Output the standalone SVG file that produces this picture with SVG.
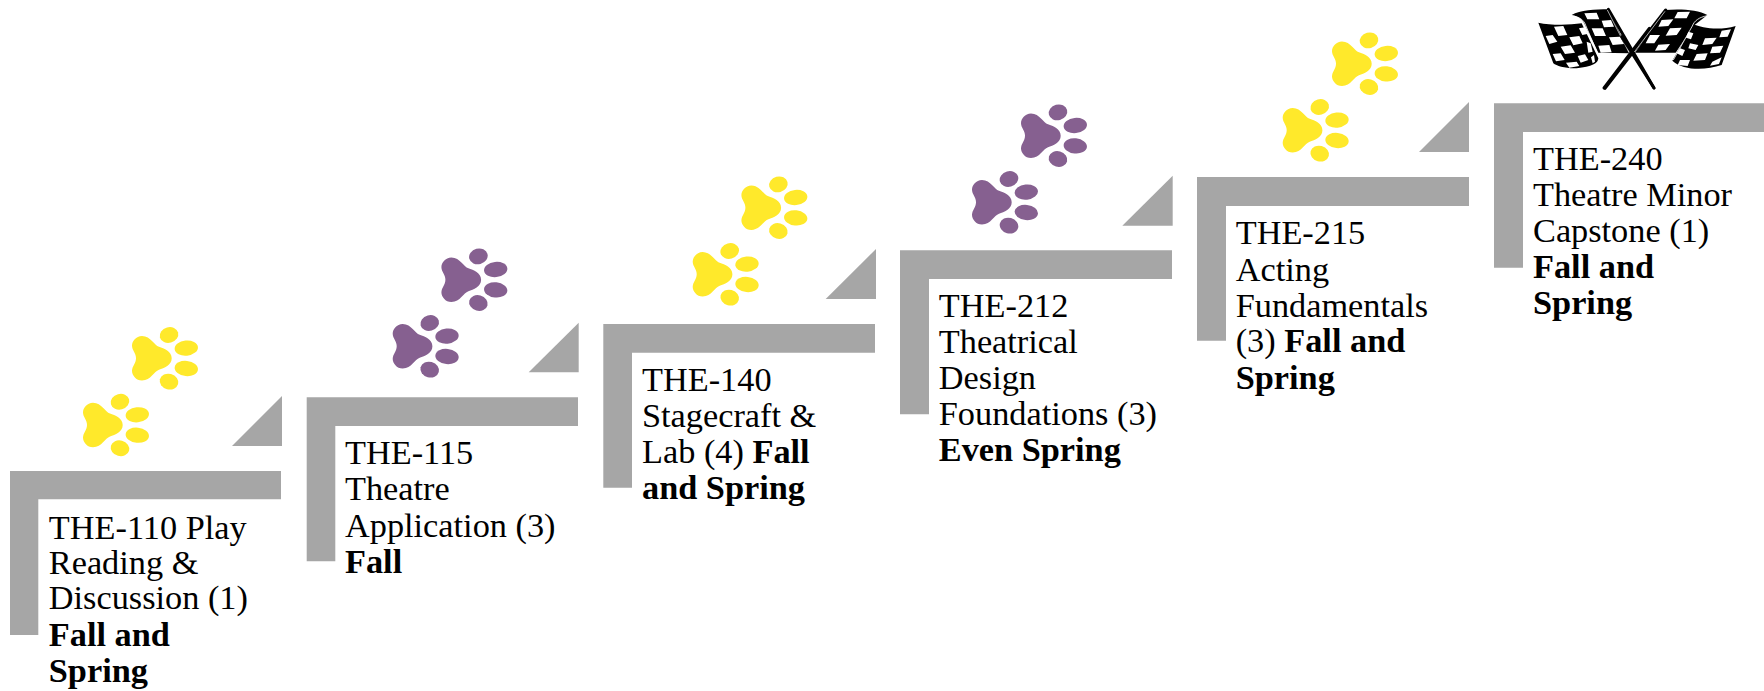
<svg xmlns="http://www.w3.org/2000/svg" width="1764" height="691" viewBox="0 0 1764 691">
<style>
.bar{fill:#a6a6a6}
.t{font-family:"Liberation Serif","Times New Roman",serif;font-size:34.3px;fill:#000;transform:translateY(.7px)}
.b{font-weight:700}
.y{fill:#ffe92b}
.p{fill:#866090}
.w{fill:#fff}
</style>
<defs>
<g id="paw">
<path d="M21.7 0C21.7 7 14 10 9 11.5C4 13 1 22-8 22.3C-14 22.3-18 17-18 12.5C-18 8-14 5-14 0C-14-5-18-8-18-12.5C-18-17-14-22.3-8-22.3C1-22 4-13 9-11.5C14-10 21.7-7 21.7 0Z"/>
<ellipse cx="19" cy="-23.3" rx="9.4" ry="7.8" transform="rotate(-15 19 -23.3)"/>
<ellipse cx="36.3" cy="-10.2" rx="11.7" ry="7.6" transform="rotate(-6 36.3 -10.2)"/>
<ellipse cx="36.3" cy="10.2" rx="11.7" ry="7.6" transform="rotate(6 36.3 10.2)"/>
<ellipse cx="19" cy="23.3" rx="9.4" ry="7.8" transform="rotate(15 19 23.3)"/>
</g>
</defs>
<rect width="1764" height="691" fill="#fff"/>

<g id="step-1">
<path class="bar" d="M10 471H281V499.3H38.3V635H10Z"/>
<path class="bar" d="M232 446H282V396Z"/>
<use href="#paw" class="y" x="150" y="358.3"/>
<use href="#paw" class="y" x="101" y="425"/>
<text class="t"><tspan x="48.8" y="538">THE-110 Play</tspan><tspan x="48.8" y="573.5">Reading &amp;</tspan><tspan x="48.8" y="608.5">Discussion (1)</tspan><tspan class="b" x="48.8" y="645">Fall and</tspan><tspan class="b" x="48.8" y="681">Spring</tspan></text>
</g>

<g id="step-2">
<path class="bar" d="M306.7 397.3H578V426H335.3V561.3H306.7Z"/>
<path class="bar" d="M528.7 372.3H578.7V322.7Z"/>
<use href="#paw" class="p" x="459.4" y="279.7"/>
<use href="#paw" class="p" x="410.7" y="346.3"/>
<text class="t"><tspan x="345" y="463.3">THE-115</tspan><tspan x="345" y="499.3">Theatre</tspan><tspan x="345" y="536">Application (3)</tspan><tspan class="b" x="345" y="572">Fall</tspan></text>
</g>

<g id="step-3">
<path class="bar" d="M603.3 324H875V352.7H632V487.7H603.3Z"/>
<path class="bar" d="M825.7 299H876V249Z"/>
<use href="#paw" class="y" x="759.4" y="207.7"/>
<use href="#paw" class="y" x="710.7" y="274.3"/>
<text class="t"><tspan x="642" y="390">THE-140</tspan><tspan x="642" y="426">Stagecraft &amp;</tspan><tspan x="642" y="462.7">Lab (4) <tspan class="b">Fall</tspan></tspan><tspan class="b" x="642" y="498.3">and Spring</tspan></text>
</g>

<g id="step-4">
<path class="bar" d="M900 250.3H1172V279H929V414.3H900Z"/>
<path class="bar" d="M1122.3 225.7H1172.7V175.7Z"/>
<use href="#paw" class="p" x="1039" y="135.7"/>
<use href="#paw" class="p" x="990" y="202.3"/>
<text class="t"><tspan x="938.8" y="316.7">THE-212</tspan><tspan x="938.8" y="352.7">Theatrical</tspan><tspan x="938.8" y="388">Design</tspan><tspan x="938.8" y="424">Foundations (3)</tspan><tspan class="b" x="938.8" y="460.7">Even Spring</tspan></text>
</g>

<g id="step-5">
<path class="bar" d="M1197 177H1469V206H1226V340.7H1197Z"/>
<path class="bar" d="M1419 152H1469V102Z"/>
<use href="#paw" class="y" x="1350" y="63.7"/>
<use href="#paw" class="y" x="1300.7" y="130.3"/>
<text class="t"><tspan x="1235.7" y="243.3">THE-215</tspan><tspan x="1235.7" y="280">Acting</tspan><tspan x="1235.7" y="316">Fundamentals</tspan><tspan x="1235.7" y="351">(3) <tspan class="b">Fall and</tspan></tspan><tspan class="b" x="1235.7" y="388">Spring</tspan></text>
</g>

<g id="step-6">
<path class="bar" d="M1494 103.3H1764V132H1523V267.7H1494Z"/>
<text class="t"><tspan x="1533" y="169.3">THE-240</tspan><tspan x="1533" y="205.3">Theatre Minor</tspan><tspan x="1533" y="241.7">Capstone (1)</tspan><tspan class="b" x="1533" y="277.7">Fall and</tspan><tspan class="b" x="1533" y="313.3">Spring</tspan></text>
</g>

<g id="flags">
<g transform="translate(1530 0) scale(.3333)">
<path d="M222 264L358 85" stroke="#000" stroke-width="9" stroke-linecap="round" fill="none"/>
<path d="M235 28L372 264" stroke="#000" stroke-width="9" stroke-linecap="round" fill="none"/>
<path d="M236 28L298 160L205 158L165 75C160 60 145 48 125 45C150 30 195 28 236 28Z"/>
<path d="M25 68C60 76 115 76 155 70L205 175C205 190 185 200 140 205C105 206 80 198 70 190Z"/>
<path class="w" d="M72 80L100 78L112 105L85 108ZM47 108L68 105L82 125L58 132ZM118 112L148 108L158 130L130 136ZM92 140L122 136L135 158L105 162ZM68 162L92 160L104 180L78 184ZM108 188L140 185L148 198L118 203ZM143 168L165 163L175 180L152 188ZM147 85L165 82L172 102L157 105ZM170 125L182 130L188 155L175 158ZM183 172L192 165L195 185L188 190Z"/>
<path class="w" d="M163 40L200 38L208 58L172 58ZM215 62L243 60L252 80L222 82ZM185 85L218 85L228 108L195 108ZM237 112L270 110L282 132L248 135ZM205 137L238 135L245 157L212 158Z"/>
<path d="M125 48C148 50 162 60 167 76L208 172" fill="none" stroke="#fff" stroke-width="2.5"/>
<path d="M232 30L297 158" fill="none" stroke="#fff" stroke-width="2"/>
</g>
<g transform="translate(1625 0) scale(.3333)">
<path d="M-60 265L122 30" stroke="#000" stroke-width="9" stroke-linecap="round" fill="none"/>
<path d="M-10 110L87 264" stroke="#000" stroke-width="9" stroke-linecap="round" fill="none"/>
<path d="M120 30C160 26 220 28 247 45L205 78L152 158L30 158Z"/>
<path d="M205 72C230 85 285 92 332 78L290 195C240 212 175 212 142 182Z"/>
<path class="w" d="M158 36L195 35L185 55L148 55ZM110 60L145 58L130 78L100 80ZM135 85L170 83L155 105L122 107ZM75 105L105 105L88 130L62 130ZM100 134L135 132L122 150L90 152Z"/>
<path class="w" d="M290 92L318 88L308 110L283 112ZM240 115L275 113L262 132L232 135ZM262 140L295 137L285 158L255 160ZM195 130L220 135L212 150L190 145ZM215 162L248 160L240 180L205 182ZM165 180L195 180L188 198L158 195ZM262 185L290 172L282 192L255 197ZM190 95L205 100L198 118L183 113ZM165 145L180 150L172 168L155 160Z"/>
<path d="M247 47C222 52 208 62 202 78L145 180" fill="none" stroke="#fff" stroke-width="2.5"/>
<path d="M120 34L28 156" fill="none" stroke="#fff" stroke-width="2"/>
</g>
</g>
</svg>
